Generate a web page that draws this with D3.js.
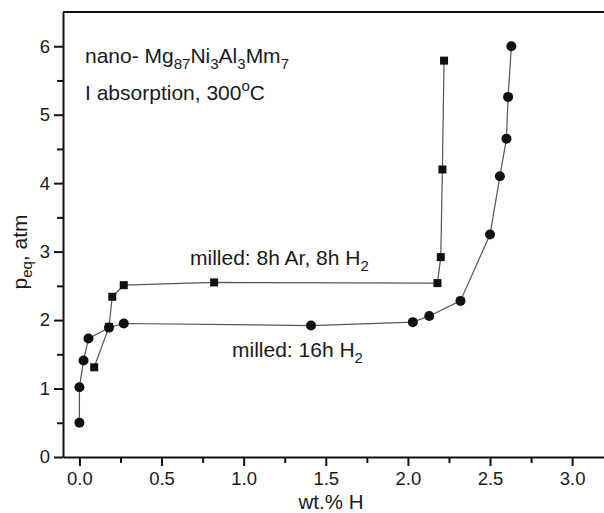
<!DOCTYPE html>
<head>
<meta charset="utf-8">
<title>PCT absorption</title>
<script type="text/javascript" src="https://d3js.org/d3.v7.min.js"></script>
<style>
  body { margin: 0; background: #fff; }
  text { font-family: "Liberation Sans", Arial, sans-serif; fill: #1a1a1a; }
</style>
</head>
<body>
<div id="container"></div>
<script>

// milled: 8h Ar, 8h H2 (squares)
const arX = [0.09, 0.18, 0.20, 0.27, 0.82, 2.18, 2.20, 2.21, 2.22];
const arY = [1.31, 1.90, 2.34, 2.51, 2.55, 2.54, 2.92, 4.20, 5.79];
// milled: 16h H2 (circles)
const h2X = [0.0, 0.0, 0.025, 0.055, 0.18, 0.27, 1.41, 2.03, 2.13, 2.32, 2.50, 2.56, 2.60, 2.61, 2.63];
const h2Y = [0.50, 1.02, 1.41, 1.73, 1.89, 1.95, 1.92, 1.97, 2.06, 2.28, 3.25, 4.10, 4.65, 5.26, 6.00];

const xTicks = [0, 0.5, 1.0, 1.5, 2.0, 2.5, 3.0];
const xMinor = [0.25, 0.75, 1.25, 1.75, 2.25, 2.75];
const yTicks = [0, 1, 2, 3, 4, 5, 6];
const yMinor = [0.5, 1.5, 2.5, 3.5, 4.5, 5.5];

function chart() {
  const width = 604, height = 513;
  const margin = {top: 12, right: -1, bottom: 56, left: 63};
  const ff = "Liberation Sans, Arial, sans-serif";

  const svg = d3.select("div#container").append("svg")
      .attr("width", width).attr("height", height);

  const x = d3.scaleLinear().domain([-0.1, 3.2])
      .range([margin.left, width - margin.right]);
  const y = d3.scaleLinear().domain([0, 6.5])
      .range([height - margin.bottom, margin.top]);

  // frame top line
  svg.append("line")
     .attr("x1", margin.left).attr("x2", width)
     .attr("y1", y(6.5)).attr("y2", y(6.5))
     .attr("stroke", "#111").attr("stroke-width", 2);

  // minor ticks
  svg.append("g")
    .attr("transform", `translate(0,${y(0)})`)
    .call(d3.axisBottom(x).tickValues(xMinor).tickSize(6).tickFormat(""))
    .call(g => g.select(".domain").remove())
    .selectAll("line").attr("stroke", "#111").attr("stroke-width", 2);
  svg.append("g")
    .attr("transform", `translate(${margin.left},0)`)
    .call(d3.axisLeft(y).tickValues(yMinor).tickSize(6).tickFormat(""))
    .call(g => g.select(".domain").remove())
    .selectAll("line").attr("stroke", "#111").attr("stroke-width", 2);

  // major axes
  svg.append("g")
    .attr("transform", `translate(0,${y(0)})`)
    .call(d3.axisBottom(x).tickValues(xTicks).tickSize(9).tickSizeOuter(0).tickPadding(6)
      .tickFormat(d3.format(".1f")))
    .call(g => g.select(".domain").attr("stroke", "#111").attr("stroke-width", 2))
    .call(g => g.selectAll("line").attr("stroke", "#111").attr("stroke-width", 2))
    .call(g => g.selectAll("text").attr("font-size", 18.5).attr("font-family", ff).attr("fill", "#1a1a1a"));
  svg.append("g")
    .attr("transform", `translate(${margin.left},0)`)
    .call(d3.axisLeft(y).tickValues(yTicks).tickSize(9).tickSizeOuter(0).tickPadding(4)
      .tickFormat(d3.format("d")))
    .call(g => g.select(".domain").attr("stroke", "#111").attr("stroke-width", 2))
    .call(g => g.selectAll("line").attr("stroke", "#111").attr("stroke-width", 2))
    .call(g => g.selectAll("text").attr("font-size", 18.5).attr("font-family", ff).attr("fill", "#1a1a1a"));

  // axis titles
  svg.append("text").attr("x", 331).attr("y", 509)
     .attr("text-anchor", "middle").attr("font-size", 20.5).text("wt.% H");
  const yl = svg.append("text")
     .attr("transform", "translate(27,252) rotate(-90)")
     .attr("text-anchor", "middle").attr("font-size", 21);
  yl.append("tspan").text("p");
  yl.append("tspan").attr("font-size", 15).attr("dy", 5).text("eq");
  yl.append("tspan").attr("dy", -5).text(", atm");

  // lines
  const line = d3.line().x(d => x(d[0])).y(d => y(d[1]));
  const arData = arX.map((v, i) => [v, arY[i]]);
  const h2Data = h2X.map((v, i) => [v, h2Y[i]]);

  svg.append("path").datum(h2Data).attr("d", line)
     .attr("fill", "none").attr("stroke", "#555").attr("stroke-width", 1.2);
  svg.append("path").datum(arData).attr("d", line)
     .attr("fill", "none").attr("stroke", "#555").attr("stroke-width", 1.2);

  svg.append("g").selectAll("circle").data(h2Data).join("circle")
     .attr("cx", d => x(d[0])).attr("cy", d => y(d[1])).attr("r", 5)
     .attr("fill", "#111");
  svg.append("g").selectAll("rect").data(arData).join("rect")
     .attr("x", d => x(d[0]) - 4).attr("y", d => y(d[1]) - 4)
     .attr("width", 8).attr("height", 8).attr("fill", "#111");

  // annotations
  const fs = 21, ss = 15;
  const t1 = svg.append("text").attr("x", 85).attr("y", 63).attr("font-size", fs);
  t1.append("tspan").text("nano- Mg");
  t1.append("tspan").attr("font-size", ss).attr("dy", 6).text("87");
  t1.append("tspan").attr("dy", -6).text("Ni");
  t1.append("tspan").attr("font-size", ss).attr("dy", 6).text("3");
  t1.append("tspan").attr("dy", -6).text("Al");
  t1.append("tspan").attr("font-size", ss).attr("dy", 6).text("3");
  t1.append("tspan").attr("dy", -6).text("Mm");
  t1.append("tspan").attr("font-size", ss).attr("dy", 6).text("7");

  const t2 = svg.append("text").attr("x", 85).attr("y", 100).attr("font-size", fs);
  t2.append("tspan").text("I absorption, 300");
  t2.append("tspan").attr("font-size", ss).attr("dy", -9).text("o");
  t2.append("tspan").attr("dy", 9).text("C");

  const t3 = svg.append("text").attr("x", 190).attr("y", 265).attr("font-size", fs);
  t3.append("tspan").text("milled: 8h Ar, 8h H");
  t3.append("tspan").attr("font-size", ss).attr("dy", 6).text("2");

  const t4 = svg.append("text").attr("x", 232).attr("y", 357).attr("font-size", fs);
  t4.append("tspan").text("milled: 16h H");
  t4.append("tspan").attr("font-size", ss).attr("dy", 6).text("2");

  return svg.node();
}

chart();
</script>
</body>
